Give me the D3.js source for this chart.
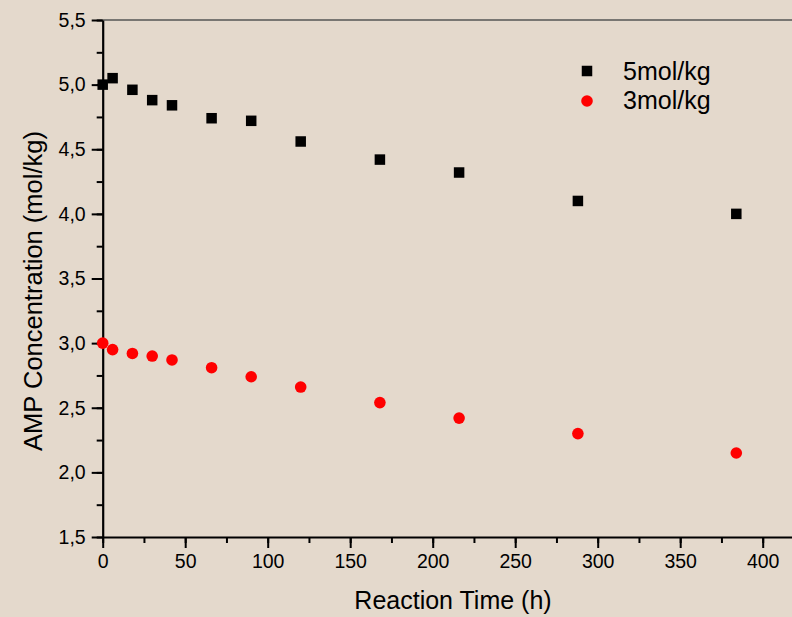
<!DOCTYPE html>
<html>
<head>
<meta charset="utf-8">
<script src="https://cdn.jsdelivr.net/npm/d3@7/dist/d3.min.js"></script>
<style>
html,body{margin:0;padding:0;background:#e4d9cc;}
svg{display:block;}
text{font-family:"Liberation Sans",Arial,sans-serif;fill:#000;}
</style>
</head>
<body>
<svg id="chart" width="792" height="617"></svg>
<script>
const times = [0, 6, 18, 30, 42, 66, 90, 120, 168, 216, 288, 384];
const conc5 = [5.00, 5.05, 4.96, 4.88, 4.84, 4.74, 4.72, 4.56, 4.42, 4.32, 4.10, 4.00];
const conc3 = [3.00, 2.95, 2.92, 2.90, 2.87, 2.81, 2.74, 2.66, 2.54, 2.42, 2.30, 2.15];
const seriesNames = ["5mol/kg", "3mol/kg"];
const xTicks = [0, 50, 100, 150, 200, 250, 300, 350, 400];
const yTicks = [1.5, 2.0, 2.5, 3.0, 3.5, 4.0, 4.5, 5.0, 5.5];

const svg = d3.select("#chart");
const pLeft = 102.7, pTop = 20, pBottom = 537;
const x = d3.scaleLinear().domain([0, 420]).range([pLeft, pLeft + 1.65 * 420]);
const y = d3.scaleLinear().domain([1.5, 5.5]).range([pBottom, pTop]);
const fmt = d => d3.format(".1f")(d).replace(".", ",");

// top frame line
svg.append("line").attr("x1", pLeft).attr("x2", x(420)).attr("y1", pTop).attr("y2", pTop)
  .attr("stroke", "#555").attr("stroke-width", 1.6);

// minor ticks
const xMinor = d3.range(0, 425, 25);
const yMinor = d3.range(1.5, 5.51, 0.25);
svg.append("g").attr("transform", `translate(0,${pBottom})`)
  .call(d3.axisBottom(x).tickValues(xMinor).tickSize(6).tickFormat(""))
  .call(g => { g.select(".domain").remove(); g.selectAll("line").attr("stroke-width", 2); });
svg.append("g").attr("transform", `translate(${pLeft},0)`)
  .call(d3.axisLeft(y).tickValues(yMinor).tickSize(6).tickFormat(""))
  .call(g => { g.select(".domain").remove(); g.selectAll("line").attr("stroke-width", 2); });

// major axes
const xAxis = svg.append("g").attr("transform", `translate(0,${pBottom})`)
  .call(d3.axisBottom(x).tickValues(xTicks).tickSize(11).tickSizeOuter(0).tickPadding(6).tickFormat(d3.format("d")));
xAxis.select(".domain").attr("stroke-width", 2.2);
xAxis.selectAll("line").attr("stroke-width", 2);
xAxis.selectAll("text").attr("font-size", "19.5px").attr("font-family", "Liberation Sans, Arial, sans-serif").attr("fill", "#000");

const yAxis = svg.append("g").attr("transform", `translate(${pLeft},0)`)
  .call(d3.axisLeft(y).tickValues(yTicks).tickSize(11).tickSizeOuter(0).tickPadding(6).tickFormat(fmt));
yAxis.select(".domain").attr("stroke-width", 2.2);
yAxis.selectAll("line").attr("stroke-width", 2);
yAxis.selectAll("text").attr("font-size", "19.5px").attr("font-family", "Liberation Sans, Arial, sans-serif").attr("fill", "#000");

// axis titles
svg.append("text").attr("x", 453).attr("y", 609).attr("text-anchor", "middle")
  .attr("font-size", "25px").text("Reaction Time (h)");
svg.append("text").attr("transform", "translate(41.5,291) rotate(-90)").attr("text-anchor", "middle")
  .attr("font-size", "25.5px").text("AMP Concentration (mol/kg)");

// data
const sq = 10.5;
svg.append("g").selectAll("rect").data(times.map((t, i) => [t, conc5[i]])).join("rect")
  .attr("x", d => x(d[0]) - sq / 2).attr("y", d => y(d[1]) - sq / 2)
  .attr("width", sq).attr("height", sq).attr("fill", "#000");
svg.append("g").selectAll("circle").data(times.map((t, i) => [t, conc3[i]])).join("circle")
  .attr("cx", d => x(d[0])).attr("cy", d => y(d[1])).attr("r", 5.8).attr("fill", "#ff0000");

// legend
const lg = svg.append("g");
lg.append("rect").attr("x", 587 - sq / 2).attr("y", 71 - sq / 2).attr("width", sq).attr("height", sq).attr("fill", "#000");
lg.append("text").attr("x", 623).attr("y", 79.5).attr("font-size", "25px").text(seriesNames[0]);
lg.append("circle").attr("cx", 587).attr("cy", 101).attr("r", 5.8).attr("fill", "#ff0000");
lg.append("text").attr("x", 623).attr("y", 109).attr("font-size", "25px").text(seriesNames[1]);
</script>
</body>
</html>
